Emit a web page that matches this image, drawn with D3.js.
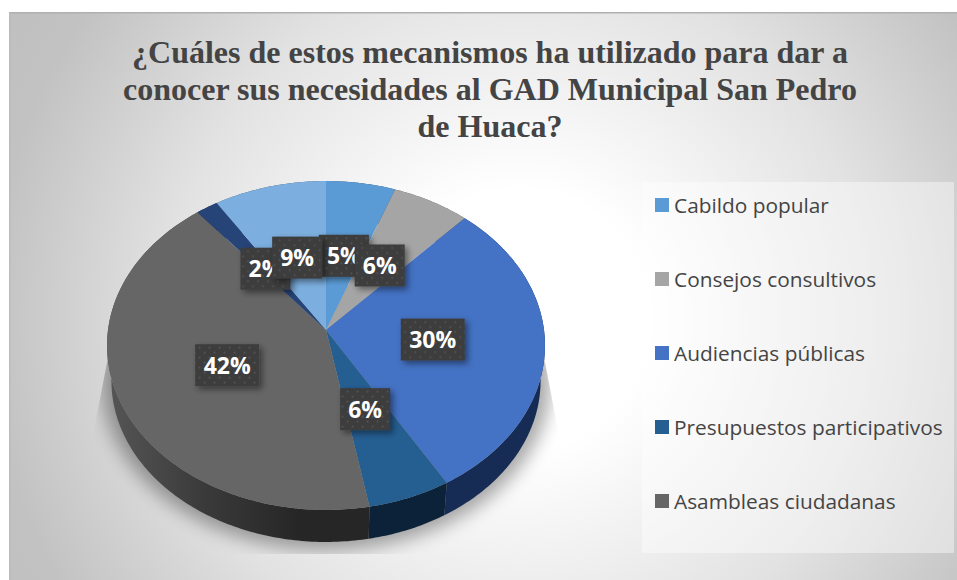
<!DOCTYPE html>
<html><head><meta charset="utf-8">
<script src="https://cdnjs.cloudflare.com/ajax/libs/d3/7.8.5/d3.min.js"></script>
<style>html,body{margin:0;padding:0;background:#fff}svg{display:block}</style>
</head><body><script>
const categories = ["Cabildo popular","Consejos consultivos","Audiencias públicas","Presupuestos participativos","Asambleas ciudadanas","",""];
const values = [5.6,6.3,29.6,5.6,42,1.8,9.1];
const labels = ["5%","6%","30%","6%","42%","2%","9%"];
const colors = ["#5b9bd5","#a5a5a5","#4472c4","#255e91","#666666","#264478","#7cafdf"];
const wallColors = ["#2d4f6e","#555555","#162c55","#0c2238","url(#wallGray)","#13233f","#3f5a72"];
const titleLines = ["¿Cuáles de estos mecanismos ha utilizado para dar a","conocer sus necesidades al GAD Municipal San Pedro","de Huaca?"];

const W=957,H=580;
const svg=d3.select("body").append("svg").attr("width",W).attr("height",H);
const defs=svg.append("defs");

const bg=defs.append("radialGradient").attr("id","bg").attr("gradientUnits","userSpaceOnUse")
  .attr("cx",520).attr("cy",320).attr("r",590);
[[0,"#ffffff"],[.22,"#ffffff"],[.6,"#e2e2e2"],[.9,"#c2c2c2"],[1,"#c0c0c0"]].forEach(s=>bg.append("stop").attr("offset",s[0]).attr("stop-color",s[1]));
const wg=defs.append("linearGradient").attr("id","wallGray").attr("gradientUnits","userSpaceOnUse")
  .attr("x1",110).attr("x2",300).attr("y1",0).attr("y2",0);
[[0,"#555555"],[.5,"#3a3a3a"],[1,"#262626"]].forEach(s=>wg.append("stop").attr("offset",s[0]).attr("stop-color",s[1]));
defs.append("filter").attr("id","blur").attr("x","-20%").attr("y","-20%").attr("width","140%").attr("height","140%")
  .append("feGaussianBlur").attr("stdDeviation",9);
const ds=defs.append("filter").attr("id","boxShadow").attr("x","-30%").attr("y","-30%").attr("width","170%").attr("height","170%");
ds.append("feDropShadow").attr("dx",3).attr("dy",3).attr("stdDeviation",3).attr("flood-color","#000").attr("flood-opacity",.45);
const pat=defs.append("pattern").attr("id","dots").attr("patternUnits","userSpaceOnUse").attr("width",10).attr("height",10);
pat.append("rect").attr("width",10).attr("height",10).attr("fill","#3c3c3c");
[[2.5,2.5],[7.5,7.5]].forEach(p=>pat.append("circle").attr("cx",p[0]).attr("cy",p[1]).attr("r",1).attr("fill","#575757"));

// chart area
svg.append("rect").attr("x",9).attr("y",12).attr("width",W-9).attr("height",H-12).attr("fill","url(#bg)");
svg.append("rect").attr("x",9).attr("y",12).attr("width",W-9).attr("height",1.5).attr("fill","#b0b0b0");
svg.append("rect").attr("x",9).attr("y",12).attr("width",1.5).attr("height",H-12).attr("fill","#b8b8b8").attr("opacity",.7);

// title
svg.append("g").selectAll("text").data(titleLines).join("text")
  .attr("x",490).attr("y",(d,i)=>63+i*36.8)
  .attr("text-anchor","middle")
  .attr("font-family","'Liberation Serif',serif").attr("font-weight","bold").attr("font-size",32)
  .attr("fill","#444444").text(d=>d);

// perspective pie projection
const cx=326,cy=330,B=218,A=163,k=0.0942,depth=35.6,baseScale=0.98;
function proj(a,r,s,dy){
  const u=Math.sin(a)*r, v=-Math.cos(a)*r, d=1-k*v;
  return [cx+s*B*u/d, cy+dy+s*A*v/d];
}
const pie=d3.pie().sort(null).value(d=>d)(values).map((d,i)=>({...d,i}));
const samples=(a0,a1)=>{const n=Math.max(2,Math.ceil((a1-a0)/0.015));return d3.range(n+1).map(j=>a0+(a1-a0)*j/n);};
const line=d3.line().curve(d3.curveLinear);

// ground shadow
const shadowClip=defs.append("clipPath").attr("id","shadowClip");
shadowClip.append("path").attr("d","M122,285 L92,440 L92,554 L560,554 L560,440 L530,285 Z");
const ring=samples(0,2*Math.PI).map(a=>proj(a,1,1.025,depth));
svg.append("g").attr("clip-path","url(#shadowClip)")
  .append("path").attr("d",line(ring)+"Z").attr("fill","#000").attr("opacity",.34).attr("filter","url(#blur)");

// walls
svg.append("g").selectAll("path").data(pie).join("path")
  .attr("fill",d=>wallColors[d.i])
  .attr("d",d=>{
    const as=samples(d.startAngle,d.endAngle);
    const top=as.map(a=>proj(a,1,1,0));
    const bot=as.slice().reverse().map(a=>proj(a,1,baseScale,depth));
    return line(top.concat(bot))+"Z";
  });
// top face
svg.append("g").selectAll("path").data(pie).join("path")
  .attr("fill",d=>colors[d.i])
  .attr("d",d=>line([[cx,cy]].concat(samples(d.startAngle,d.endAngle).map(a=>proj(a,1,1,0))))+"Z");

// data labels
const fs=23, lg=svg.append("g").selectAll("g").data(pie).join("g")
  .attr("transform",d=>{const p=proj((d.startAngle+d.endAngle)/2,.49,1,1);return `translate(${p[0]},${p[1]})`;});
lg.append("rect")
  .attr("x",d=>labels[d.i].length>2?-32:-25).attr("width",d=>labels[d.i].length>2?64:50)
  .attr("y",-21).attr("height",42).attr("fill","url(#dots)").attr("filter","url(#boxShadow)");
lg.append("text").attr("text-anchor","middle").attr("y",8.5)
  .attr("font-family","'Open Sans',sans-serif").attr("font-weight",700).attr("font-size",fs)
  .attr("fill","#fff").text(d=>labels[d.i]);

// legend
svg.append("rect").attr("x",642).attr("y",182).attr("width",312).attr("height",371).attr("fill","#fff").attr("opacity",.42);
const legendItems=categories.filter(c=>c).map((c,i)=>({c,i}));
const ly=d3.scalePoint().domain(d3.range(legendItems.length)).range([205,501]);
const lgd=svg.append("g").selectAll("g").data(legendItems).join("g").attr("transform",d=>`translate(655,${ly(d.i)})`);
lgd.append("rect").attr("y",-7).attr("width",14).attr("height",14).attr("fill",d=>colors[d.i]);
lgd.append("text").attr("x",19).attr("y",7.5)
  .attr("font-family","'Open Sans',sans-serif").attr("font-size",20.85).attr("fill","#444444")
  .text(d=>d.c);
</script></body></html>
